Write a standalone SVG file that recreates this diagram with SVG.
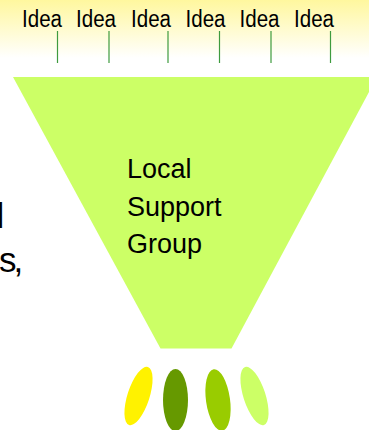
<svg xmlns="http://www.w3.org/2000/svg" width="369" height="430" viewBox="0 0 369 430">
<defs>
<linearGradient id="topband" x1="0" y1="0" x2="0" y2="1">
<stop offset="0" stop-color="#FFF79E"/>
<stop offset="1" stop-color="#FFFFFF"/>
</linearGradient>
</defs>
<style>
.idea{font-family:"Liberation Sans",Arial,sans-serif;font-size:23px;fill:#000}
.lbl{font-family:"Liberation Sans",Arial,sans-serif;font-size:27px;fill:#000}
.side{font-family:"Liberation Sans",Arial,sans-serif;font-size:35px;fill:#000}
.conn{stroke:#3E9B3E;stroke-width:1.2;fill:none}
</style>
<rect x="0" y="0" width="369" height="58" fill="url(#topband)"/>
<g id="ideas">
<g id="idea1"><text class="idea" x="22" y="27" textLength="40" lengthAdjust="spacingAndGlyphs">Idea</text></g>
<g id="idea2"><text class="idea" x="76" y="27" textLength="40" lengthAdjust="spacingAndGlyphs">Idea</text></g>
<g id="idea3"><text class="idea" x="131" y="27" textLength="40" lengthAdjust="spacingAndGlyphs">Idea</text></g>
<g id="idea4"><text class="idea" x="185.5" y="27" textLength="40" lengthAdjust="spacingAndGlyphs">Idea</text></g>
<g id="idea5"><text class="idea" x="239.5" y="27" textLength="40" lengthAdjust="spacingAndGlyphs">Idea</text></g>
<g id="idea6"><text class="idea" x="294" y="27" textLength="40" lengthAdjust="spacingAndGlyphs">Idea</text></g>
</g>
<g id="connectors">
<line class="conn" x1="57.5" y1="31" x2="57.5" y2="63"/>
<line class="conn" x1="109" y1="31" x2="109" y2="63"/>
<line class="conn" x1="168" y1="31" x2="168" y2="63"/>
<line class="conn" x1="219.5" y1="31" x2="219.5" y2="63"/>
<line class="conn" x1="271" y1="31" x2="271" y2="63"/>
<line class="conn" x1="330.5" y1="31" x2="330.5" y2="63"/>
</g>
<g id="funnel">
<polygon points="13,77 377,77 231.5,348.5 160.5,348.5" fill="#CCFF66"/>
<text class="lbl" x="127" y="178">Local</text>
<text class="lbl" x="127" y="216">Support</text>
<text class="lbl" x="127" y="253">Group</text>
</g>
<g id="side-text">
<text class="side" x="-3.4" y="228">l</text>
<text class="side" x="-1" y="272" letter-spacing="-3">s,</text>
</g>
<g id="outputs">
<ellipse id="out1" cx="138.5" cy="396" rx="11" ry="30.5" fill="#FFF200" transform="rotate(18 138.5 396)"/>
<ellipse id="out2" cx="175.5" cy="400" rx="12.5" ry="31" fill="#669900"/>
<ellipse id="out3" cx="218" cy="400" rx="12" ry="31" fill="#99CC00" transform="rotate(-8 218 400)"/>
<ellipse id="out4" cx="254.5" cy="396" rx="11" ry="30.5" fill="#CCFF66" transform="rotate(-18 254.5 396)"/>
</g>
</svg>
